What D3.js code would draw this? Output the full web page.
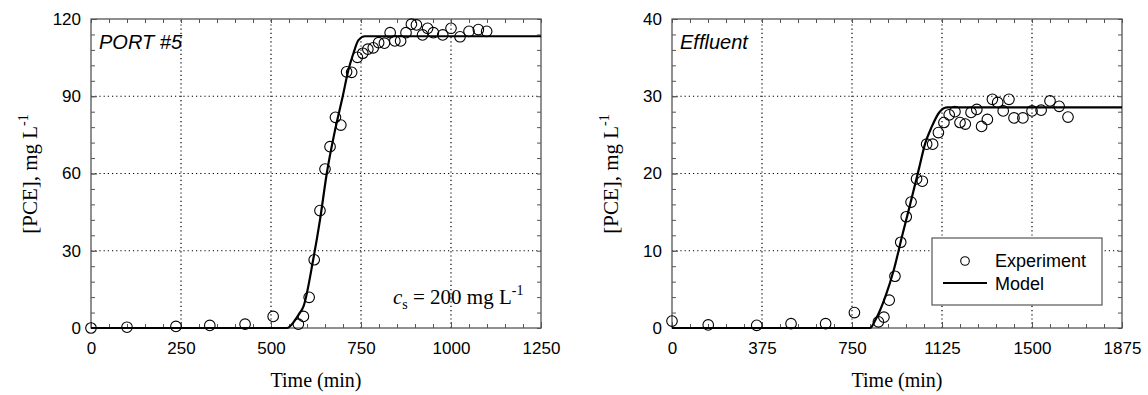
<!DOCTYPE html>
<html lang="en">
<head>
<meta charset="UTF-8">
<title>PCE breakthrough</title>
<script src="https://cdn.jsdelivr.net/npm/d3@7"></script>
<style>
  body { margin: 0; background: #fff; }
  .tick text { font-family: "Liberation Sans", Arial, sans-serif; font-size: 17px; fill: #000; }
  .serif { font-family: "Liberation Serif", "Times New Roman", serif; }
  .sans { font-family: "Liberation Sans", Arial, sans-serif; }
</style>
</head>
<body>
<script>
// ---- PORT #5 panel ----
var portTime = [0, 100, 236, 330, 428, 506, 576, 590, 606, 620, 636, 650, 664, 679, 694, 710, 724, 740, 755, 769, 784, 799, 815, 831, 844, 860, 875, 890, 904, 921, 935, 951, 977, 1000, 1025, 1050, 1076, 1099];
var portConc = [0, 0.3, 0.6, 1, 1.5, 4.5, 1.5, 4.5, 11.9, 26.5, 45.6, 61.7, 70.4, 81.8, 78.8, 99.5, 99.3, 105.1, 106.7, 108.3, 108.8, 110.8, 110.6, 114.7, 111.5, 111.5, 114.7, 118, 117.7, 113.8, 116.4, 114.7, 113.8, 116.4, 113.1, 115.2, 115.9, 115.2];
var portModelTime = [0, 544, 567, 579, 590, 617, 636, 655, 678, 699, 715, 729, 743, 761, 1250];
var portModelConc = [0, 0, 3.1, 5.7, 8.3, 26.4, 41.9, 60.1, 76.9, 89.8, 100.2, 106.7, 111.8, 113.3, 113.3];
var portXTicks = [0, 250, 500, 750, 1000, 1250];
var portYTicks = [0, 30, 60, 90, 120];

// ---- Effluent panel ----
var effTime = [0, 151, 353, 496, 640, 760, 860, 883, 905, 929, 953, 976, 996, 1019, 1043, 1061, 1086, 1110, 1133, 1155, 1179, 1200, 1222, 1246, 1270, 1290, 1314, 1335, 1357, 1380, 1404, 1425, 1462, 1500, 1538, 1575, 1613, 1650];
var effConc = [0.9, 0.4, 0.35, 0.56, 0.56, 2.0, 0.8, 1.4, 3.6, 6.7, 11.1, 14.4, 16.3, 19.3, 19.0, 23.8, 23.8, 25.3, 26.6, 27.6, 28.0, 26.6, 26.4, 27.9, 28.3, 26.1, 27.0, 29.6, 29.2, 28.1, 29.6, 27.2, 27.2, 28.1, 28.2, 29.4, 28.7, 27.3];
var effModelTime = [0, 825, 847, 889, 924, 958, 993, 1028, 1055, 1083, 1111, 1146, 1875];
var effModelConc = [0, 0, 1.0, 4.05, 7.5, 11.8, 16.1, 20.5, 23.9, 26.1, 27.8, 28.57, 28.57];
var effXTicks = [0, 375, 750, 1125, 1500, 1875];
var effYTicks = [0, 10, 20, 30, 40];

var svg = d3.select("body").append("svg").attr("width", 1148).attr("height", 395);

function drawPanel(p) {
    var x = d3.scaleLinear().domain([p.xTicks[0], p.xTicks[p.xTicks.length - 1]]).range([p.left, p.left + 450]);
    var y = d3.scaleLinear().domain([p.yTicks[0], p.yTicks[p.yTicks.length - 1]]).range([328, 19]);
    var g = svg.append("g");
    var xStep = (p.xTicks[1] - p.xTicks[0]) / 5, yStep = (p.yTicks[1] - p.yTicks[0]) / 5;
    var xMinor = d3.range(0, x.domain()[1] + 1e-9, xStep), yMinor = d3.range(0, y.domain()[1] + 1e-9, yStep);

    // grid (dotted)
    g.selectAll(".vgrid").data(p.xTicks.slice(1, -1)).enter().append("line")
        .attr("x1", function (d) { return x(d); }).attr("x2", function (d) { return x(d); })
        .attr("y1", y.range()[0]).attr("y2", y.range()[1])
        .attr("stroke", "#000").attr("stroke-width", 1.2).attr("stroke-dasharray", "1.2,3");
    g.selectAll(".hgrid").data(p.yTicks.slice(1, -1)).enter().append("line")
        .attr("y1", function (d) { return y(d); }).attr("y2", function (d) { return y(d); })
        .attr("x1", x.range()[0]).attr("x2", x.range()[1])
        .attr("stroke", "#000").attr("stroke-width", 1.2).attr("stroke-dasharray", "1.2,3");

    // axes: labelled bottom/left, minor ticks on all sides
    function styleAxis(sel) {
        sel.select(".domain").remove();
        sel.selectAll(".tick line").attr("stroke", "#555");
    }
    g.append("g").attr("transform", "translate(0,328)")
        .call(d3.axisBottom(x).tickValues(p.xTicks).tickFormat(d3.format("d")).tickSizeInner(-6).tickSizeOuter(0).tickPadding(14)).call(styleAxis);
    g.append("g").attr("transform", "translate(0,328)")
        .call(d3.axisBottom(x).tickValues(xMinor).tickSize(-4).tickFormat("")).call(styleAxis);
    g.append("g").attr("transform", "translate(0,19)")
        .call(d3.axisTop(x).tickValues(xMinor).tickSize(-4).tickFormat("")).call(styleAxis);
    g.append("g").attr("transform", "translate(" + p.left + ",0)")
        .call(d3.axisLeft(y).tickValues(p.yTicks).tickFormat(d3.format("d")).tickSizeInner(-6).tickSizeOuter(0).tickPadding(10)).call(styleAxis);
    g.append("g").attr("transform", "translate(" + p.left + ",0)")
        .call(d3.axisLeft(y).tickValues(yMinor).tickSize(-4).tickFormat("")).call(styleAxis);
    g.append("g").attr("transform", "translate(" + (p.left + 450) + ",0)")
        .call(d3.axisRight(y).tickValues(yMinor).tickSize(-4).tickFormat("")).call(styleAxis);

    // frame
    g.append("rect").attr("x", p.left).attr("y", 19).attr("width", 450).attr("height", 309)
        .attr("fill", "none").attr("stroke", "#555").attr("stroke-width", 1.3);

    // model line
    var model = p.modelT.map(function (t, i) { return [t, p.modelC[i]]; });
    g.append("path").datum(model)
        .attr("d", d3.line().x(function (d) { return x(d[0]); }).y(function (d) { return y(d[1]); }).curve(d3.curveMonotoneX))
        .attr("fill", "none").attr("stroke", "#000").attr("stroke-width", 2.2);

    // experimental points
    g.selectAll(".pt").data(p.t).enter().append("circle")
        .attr("cx", function (d) { return x(d); })
        .attr("cy", function (d, i) { return y(p.c[i]); })
        .attr("r", 5.3).attr("fill", "none").attr("stroke", "#000").attr("stroke-width", 1.1);

    // titles
    g.append("text").attr("class", "sans").attr("x", p.left + 8).attr("y", 49)
        .attr("font-size", 20).attr("font-style", "italic").text(p.label);
    g.append("text").attr("class", "serif").attr("x", p.left + 225).attr("y", 387)
        .attr("text-anchor", "middle").attr("font-size", 20).text("Time (min)");
    var yt = g.append("text").attr("class", "serif").attr("font-size", 21).attr("text-anchor", "middle")
        .attr("transform", "translate(" + (p.left - 54) + ",174) rotate(-90)");
    yt.append("tspan").text("[PCE], mg L");
    yt.append("tspan").attr("dy", -9).attr("font-size", 14).text("-1");
}

drawPanel({ left: 91, t: portTime, c: portConc, modelT: portModelTime, modelC: portModelConc,
    xTicks: portXTicks, yTicks: portYTicks, label: "PORT #5" });
drawPanel({ left: 672, t: effTime, c: effConc, modelT: effModelTime, modelC: effModelConc,
    xTicks: effXTicks, yTicks: effYTicks, label: "Effluent" });

// c_s annotation on the left panel
var cs = svg.append("text").attr("class", "serif").attr("x", 393).attr("y", 304).attr("font-size", 21);
cs.append("tspan").attr("font-style", "italic").text("c");
cs.append("tspan").attr("dy", 5).attr("font-size", 14).text("s");
cs.append("tspan").attr("dy", -5).text(" = 200 mg L");
cs.append("tspan").attr("dy", -9).attr("font-size", 14).text("-1");

// legend on the right panel
var lg = svg.append("g");
lg.append("rect").attr("x", 932).attr("y", 238).attr("width", 170).attr("height", 67)
    .attr("fill", "#fff").attr("stroke", "#555").attr("stroke-width", 1.2);
lg.append("circle").attr("cx", 965).attr("cy", 261).attr("r", 4.3)
    .attr("fill", "none").attr("stroke", "#000").attr("stroke-width", 1.1);
lg.append("line").attr("x1", 943).attr("x2", 987).attr("y1", 283).attr("y2", 283)
    .attr("stroke", "#000").attr("stroke-width", 2.2);
lg.append("text").attr("class", "sans").attr("x", 995).attr("y", 267).attr("font-size", 18).text("Experiment");
lg.append("text").attr("class", "sans").attr("x", 995).attr("y", 290).attr("font-size", 18).text("Model");
</script>
</body>
</html>
